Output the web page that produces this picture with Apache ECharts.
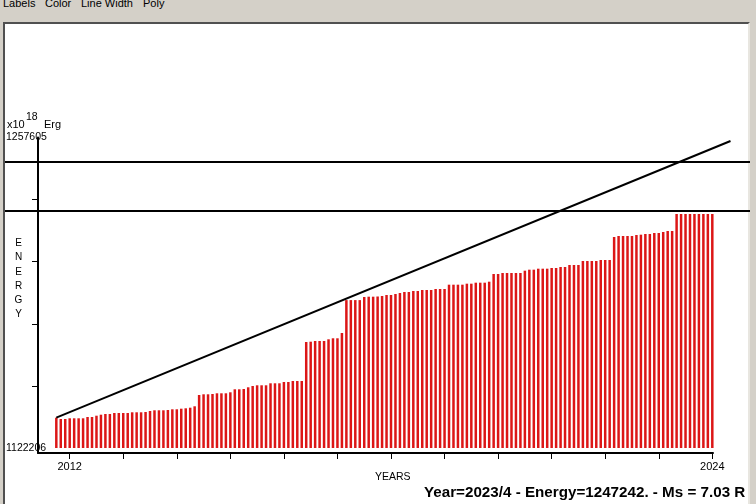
<!DOCTYPE html>
<html><head><meta charset="utf-8">
<script src="https://cdn.jsdelivr.net/npm/echarts@6/dist/echarts.min.js"></script>
<style>
html,body{margin:0;padding:0;width:756px;height:504px;overflow:hidden;background:#d4d0c8;font-family:"Liberation Sans",Arial,sans-serif;}
#panel{position:absolute;left:3px;top:22px;width:743px;height:490px;background:#fff;border-top:2px solid #505050;border-left:2px solid #505050;border-right:2px solid #e8e6e0;}
.menu{position:absolute;top:-2px;font-size:11px;line-height:11px;color:#000;}
#chart{position:absolute;left:0;top:0;width:756px;height:504px;}
</style></head>
<body>
<div class="menu" style="left:3px">Labels</div>
<div class="menu" style="left:45px">Color</div>
<div class="menu" style="left:81px">Line Width</div>
<div class="menu" style="left:143px">Poly</div>
<div id="panel"></div>
<div id="chart"></div>
<script>
// ---- data ----
const startYear = 2011, startMonth = 10; // first bar: 2011/10, one bar per month
const energy = [
1135420,1134853,1134853,1135158,1135158,1135158,1135158,1135725,1135725,1136292,
1136728,1137033,1137033,1137470,1137470,1137470,1137470,1137775,1137775,1137775,
1137906,1138342,1138647,1138647,1138647,1138778,1139083,1139083,1139345,1139519,
1139781,1140391,1145319,1145625,1145625,1145755,1146061,1146061,1146061,1146497,
1147805,1147805,1147936,1148677,1149244,1149550,1149550,1149550,1150422,1150422,
1150422,1150989,1150989,1151425,1151425,1151425,1168433,1168563,1168869,1168869,
1168869,1169610,1170046,1170046,1172358,1186700,1186700,1186700,1186700,1188057,
1188188,1188188,1188275,1188493,1188929,1188929,1189365,1189802,1190238,1190238,
1190674,1190674,1191110,1191110,1191110,1191546,1191546,1191546,1193421,1193421,
1193421,1193421,1193857,1193857,1194293,1194293,1194293,1194729,1198087,1198087,
1198524,1198524,1198524,1198524,1198524,1199527,1199963,1199963,1200399,1200399,
1200399,1200704,1200704,1201140,1201140,1202012,1202012,1202012,1203757,1203757,
1203757,1203757,1204193,1204193,1204193,1214223,1214659,1214659,1214659,1214659,
1215095,1215226,1215531,1215531,1215968,1215968,1216404,1216840,1216840,1224253,
1224253,1224253,1224253,1224253,1224253,1224253,1224253,1224253
];
const trendLine = [[2011.75, 1135420], [2024.34, 1256079]];
const levelLines = [1247242, 1225500];
const yLabelValues = [1122206, 1257605];
const yTickValues = [1149286, 1176366, 1203446, 1230526];
const xTickValues = [2012,2013,2014,2015,2016,2017,2018,2019,2020,2021,2022,2023,2024];
const xLabelValues = [2012, 2024];
const statusText = 'Year=2023/4 - Energy=1247242. - Ms = 7.03 R';

const baseEnergy = yLabelValues[0];
const barData = energy.map((v, i) => [startYear + (startMonth - 1 + i) / 12, v]);

const FONT = '"Liberation Sans", Arial, sans-serif';
const yMin = 1120026, yMax = 1257605;

const chart = echarts.init(document.getElementById('chart'), null, {renderer: 'canvas'});
chart.setOption({
  backgroundColor: 'transparent',
  animation: false,
  grid: [
    {left: 38, top: 137.5, width: 675, height: 315.5},
    {left: 5, top: 137.5, width: 745, height: 315.5}
  ],
  xAxis: [
    {type: 'value', gridIndex: 0, min: 2011.408, max: 2024.013,
     axisLine: {show: true, onZero: false, lineStyle: {color: '#000', width: 2}},
     axisTick: {show: true, length: 6, inside: false, customValues: xTickValues, lineStyle: {color: '#000', width: 1}},
     axisLabel: {show: true, customValues: xLabelValues, margin: 8, color: '#000', fontSize: 11, fontFamily: FONT, formatter: v => String(v)},
     splitLine: {show: false}},
    {type: 'value', gridIndex: 1, min: 2010.792, max: 2024.704, show: false}
  ],
  yAxis: [
    {type: 'value', gridIndex: 0, min: yMin, max: yMax,
     axisLine: {show: true, onZero: false, lineStyle: {color: '#000', width: 2}},
     axisTick: {show: true, length: 6, inside: false, customValues: yTickValues, lineStyle: {color: '#000', width: 1}},
     axisLabel: {show: true, customValues: yLabelValues, align: 'left', margin: 32, color: '#000', fontSize: 10.5, fontFamily: FONT, formatter: v => String(v)},
     splitLine: {show: false}},
    {type: 'value', gridIndex: 1, min: yMin, max: yMax, show: false}
  ],
  series: [
    {type: 'custom', xAxisIndex: 0, yAxisIndex: 0, data: barData, encode: {x: 0, y: 1}, silent: true,
     renderItem: function (params, api) {
       const top = api.coord([api.value(0), api.value(1)]);
       const bot = api.coord([api.value(0), baseEnergy]);
       return {type: 'rect', shape: {x: top[0] - 1.25, y: top[1], width: 2.5, height: bot[1] - top[1]},
               style: {fill: '#dc1616'}};
     }},
    {type: 'line', xAxisIndex: 1, yAxisIndex: 1, data: trendLine, symbol: 'none',
     lineStyle: {color: '#000', width: 2}, silent: true,
     markLine: {silent: true, symbol: 'none', label: {show: false},
       lineStyle: {color: '#000', width: 2, type: 'solid'},
       data: levelLines.map(v => ({yAxis: v}))}}
  ],
  graphic: [
    {type: 'text', left: 7, top: 119, style: {text: 'x10', font: '11px ' + FONT, fill: '#000'}},
    {type: 'text', left: 26, top: 112, style: {text: '18', font: '10.5px ' + FONT, fill: '#000'}},
    {type: 'text', left: 44, top: 119, style: {text: 'Erg', font: '11px ' + FONT, fill: '#000'}},
    {type: 'text', x: 18.5, y: 236, style: {text: 'E\nN\nE\nR\nG\nY', font: '10px ' + FONT, lineHeight: 14.3, align: 'center', fill: '#000'}},
    {type: 'text', left: 375, top: 472, style: {text: 'YEARS', font: '10.5px ' + FONT, fill: '#000'}},
    {type: 'text', left: 424, top: 485, style: {text: statusText, font: 'bold 15.2px ' + FONT, fill: '#000'}}
  ]
});
</script>
</body></html>
